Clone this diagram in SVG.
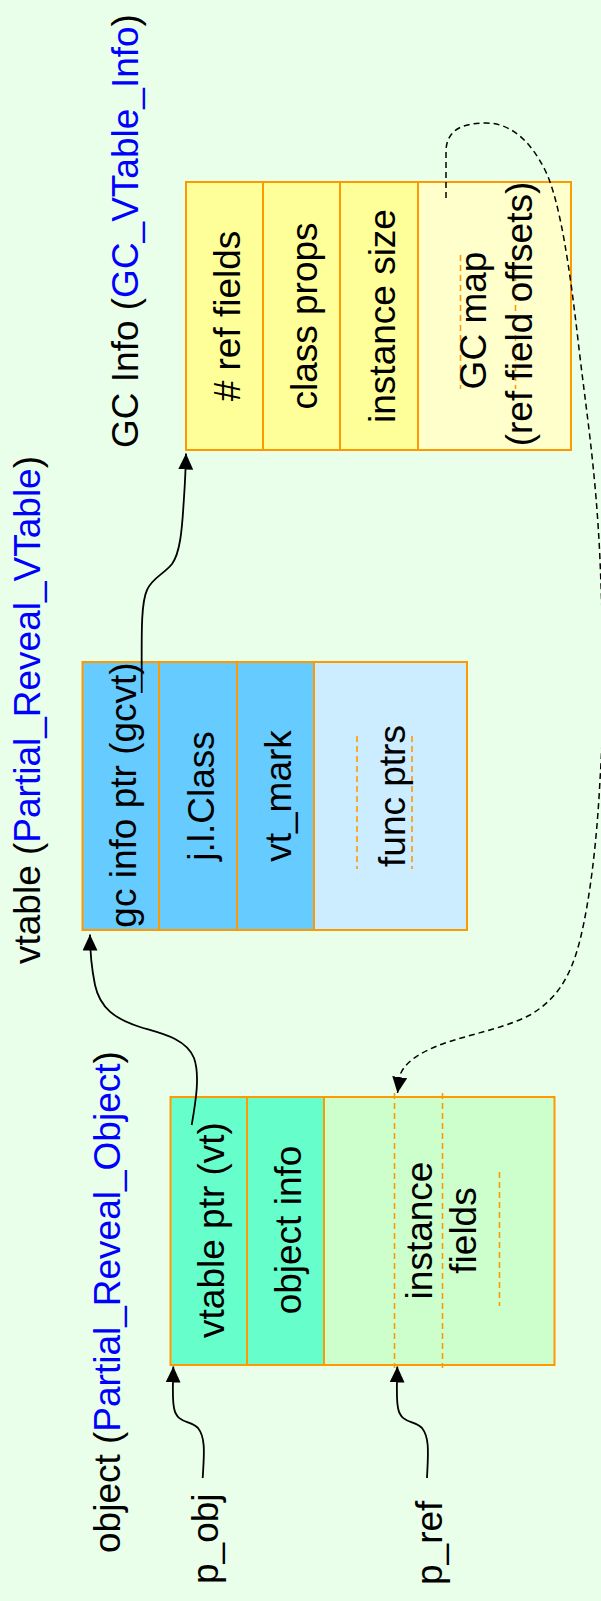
<svg xmlns="http://www.w3.org/2000/svg" width="601" height="1601" viewBox="0 0 601 1601">
  <style>
    text { font-family: "Liberation Sans", Arial, sans-serif; font-size: 37px; fill: #000; }
    .lbl { text-anchor: middle; }
    .blue { fill: #0000FF; }
    .cell { stroke: #FF9900; stroke-width: 2; }
    .slot { stroke: #FF9900; stroke-width: 1.6; stroke-dasharray: 6 4; fill: none; }
    .link { stroke: #000; stroke-width: 1.8; fill: none; marker-end: url(#head); }
    .dash { stroke-dasharray: 6 4; stroke-width: 1.5; }
  </style>
  <defs>
    <marker id="head" viewBox="0 0 16 15" refX="16" refY="7.5" markerWidth="16" markerHeight="15" markerUnits="userSpaceOnUse" orient="auto">
      <path d="M0,0 L16,7.5 L0,15 Z" fill="#000"/>
    </marker>
  </defs>

  <rect width="601" height="1601" fill="#EAFFEA"/>

  <!-- titles -->
  <g id="titles">
    <text transform="translate(138,448) rotate(-90)">GC Info (<tspan class="blue">GC_VTable_Info</tspan>)</text>
    <text transform="translate(40,964) rotate(-90)">vtable (<tspan class="blue">Partial_Reveal_VTable</tspan>)</text>
    <text transform="translate(120,1553) rotate(-90)">object (<tspan class="blue">Partial_Reveal_Object</tspan>)</text>
  </g>

  <!-- GC info record -->
  <g id="gc-info">
    <rect class="cell" x="186" y="182" width="77" height="268" fill="#FFFF99"/>
    <rect class="cell" x="263" y="182" width="77" height="268" fill="#FFFF99"/>
    <rect class="cell" x="340" y="182" width="78" height="268" fill="#FFFF99"/>
    <rect class="cell" x="418" y="182" width="153" height="268" fill="#FFFFCC"/>
    <line class="slot" x1="460.5" y1="255" x2="460.5" y2="389"/>
    <line class="slot" x1="515.5" y1="255" x2="515.5" y2="389"/>
    <text class="lbl" transform="translate(240,316) rotate(-90)"># ref fields</text>
    <text class="lbl" transform="translate(316.5,316) rotate(-90)">class props</text>
    <text class="lbl" transform="translate(394.5,316) rotate(-90)">instance size</text>
    <text class="lbl" transform="translate(486,320.5) rotate(-90)">GC map</text>
    <text class="lbl" transform="translate(531.5,314) rotate(-90)">(ref field offsets)</text>
  </g>

  <!-- vtable record -->
  <g id="vtable">
    <rect class="cell" x="82.5" y="662" width="76.5" height="268" fill="#66CCFF"/>
    <rect class="cell" x="159" y="662" width="78" height="268" fill="#66CCFF"/>
    <rect class="cell" x="237" y="662" width="77" height="268" fill="#66CCFF"/>
    <rect class="cell" x="314" y="662" width="153" height="268" fill="#CCECFF"/>
    <line class="slot" x1="357" y1="736" x2="357" y2="869"/>
    <line class="slot" x1="412" y1="736" x2="412" y2="869"/>
    <text class="lbl" transform="translate(136,795) rotate(-90)">gc info ptr (gcvt)</text>
    <text class="lbl" transform="translate(213.5,796) rotate(-90)">j.l.Class</text>
    <text class="lbl" transform="translate(291,796) rotate(-90)">vt_mark</text>
    <text class="lbl" transform="translate(405,796) rotate(-90)">func ptrs</text>
  </g>

  <!-- object record -->
  <g id="object">
    <rect class="cell" x="170.5" y="1097" width="76.5" height="268" fill="#66FFCC"/>
    <rect class="cell" x="247" y="1097" width="77" height="268" fill="#66FFCC"/>
    <rect class="cell" x="324" y="1097" width="230.5" height="268" fill="#CCFFCC"/>
    <line class="slot" x1="394.5" y1="1093" x2="394.5" y2="1368"/>
    <line class="slot" x1="442.5" y1="1093" x2="442.5" y2="1368"/>
    <line class="slot" x1="499.5" y1="1172" x2="499.5" y2="1306"/>
    <text class="lbl" transform="translate(224,1230) rotate(-90)">vtable ptr (vt)</text>
    <text class="lbl" transform="translate(301,1230) rotate(-90)">object info</text>
    <text class="lbl" transform="translate(431.5,1230.5) rotate(-90)">instance</text>
    <text class="lbl" transform="translate(476,1230.5) rotate(-90)">fields</text>
  </g>

  <!-- pointer names -->
  <g id="p_obj">
    <text transform="translate(218,1584) rotate(-90)">p_obj</text>
  </g>
  <g id="p_ref">
    <text transform="translate(442,1585) rotate(-90)">p_ref</text>
  </g>

  <!-- connectors -->
  <g id="connectors">
    <path class="link" d="M141.7,693 C142,645 140,605 147,590 C152,578 164,574 172,564 C180,553 182,530 183.5,505 C184.5,490 185.5,478 186,453.5"/>
    <path class="link" d="M191.7,1125 C196,1100 200,1075 194,1058 C186,1038 160,1033 140,1027 C115,1019 100,1008 95,985 C92,970 90,955 90,934.5"/>
    <path class="link" d="M202.7,1478 C204,1455 206,1438 198,1428 C190,1420 177,1424 174,1408 C172,1398 173,1385 173.3,1366.5"/>
    <path class="link" d="M427,1478 C428,1455 430,1438 422,1428 C414,1420 401,1424 398,1408 C396,1398 397,1385 397.3,1366.5"/>
    <path class="link dash" d="M446,198 L446,152 C446,130 462,123 486,123 C510,123 530,140 545,170 C560,200 570,270 578,340 C586,410 596,470 600,560 C604,650 604,720 600,780 C597,840 590,900 580,940 C570,980 555,1000 530,1015 C505,1028 475,1033 445,1043 C420,1052 405,1062 400,1075 L397.5,1093"/>
  </g>
</svg>
